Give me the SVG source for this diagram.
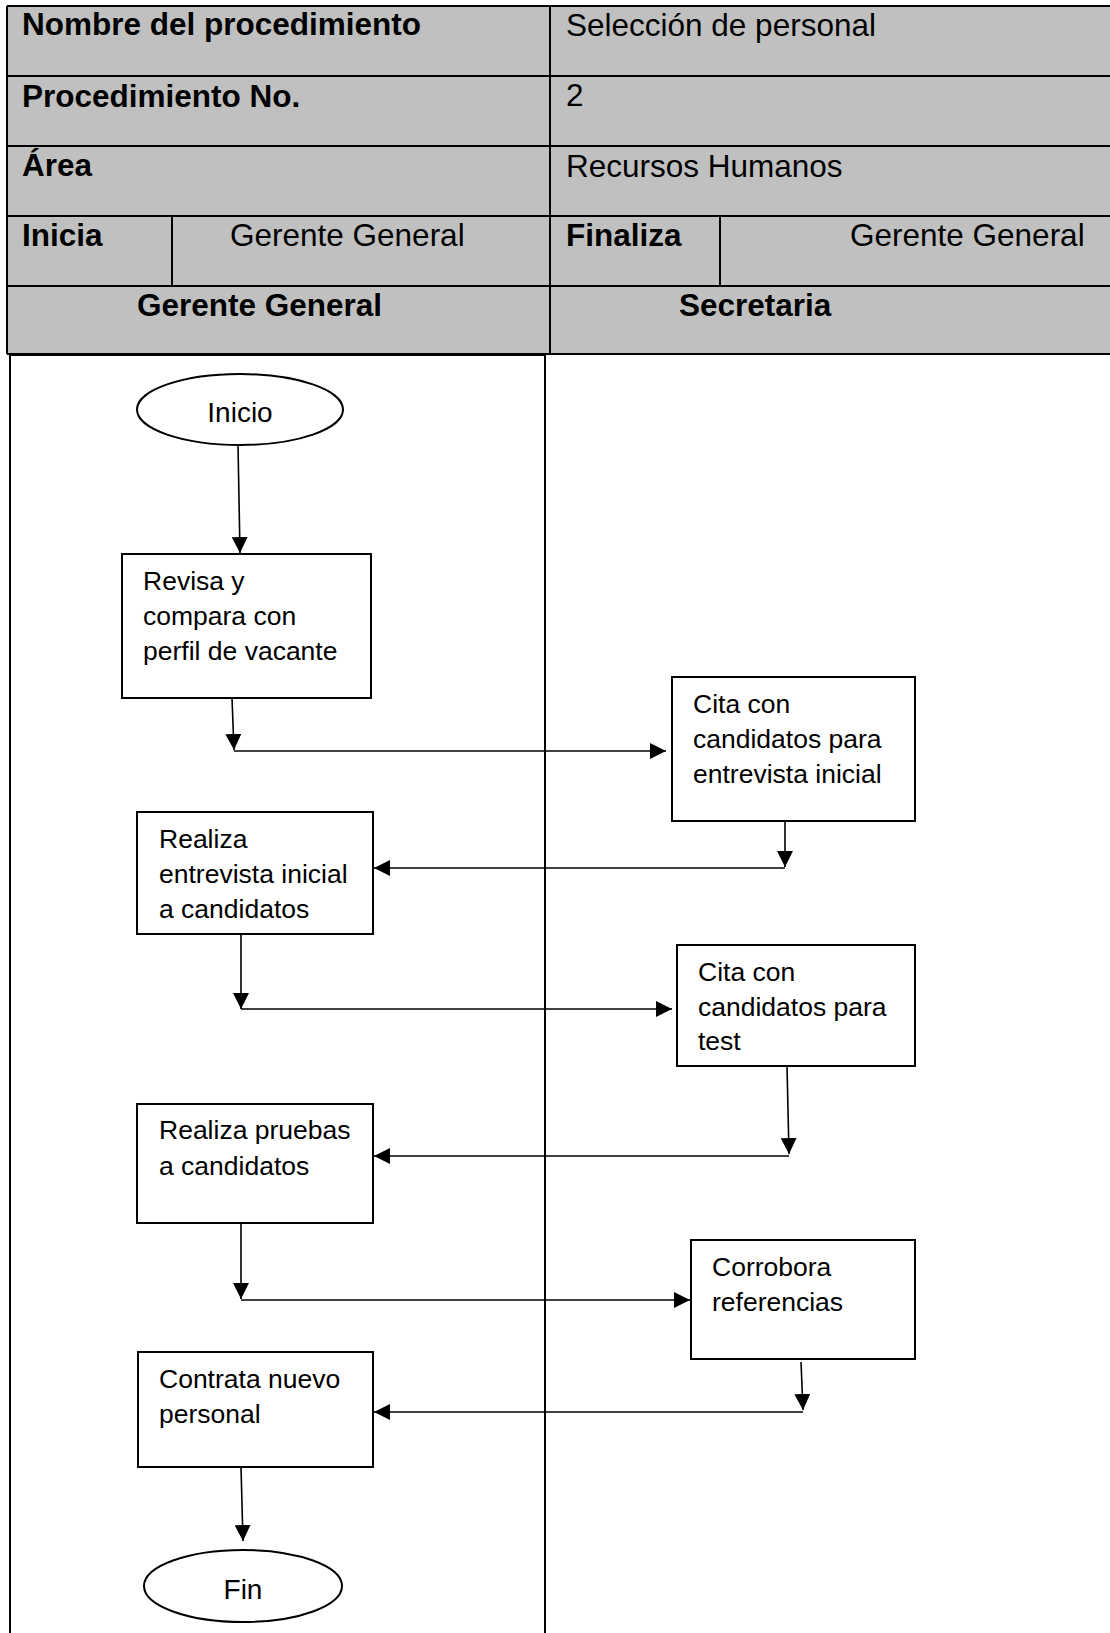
<svg xmlns="http://www.w3.org/2000/svg" width="1110" height="1633" viewBox="0 0 1110 1633">
<style>
.hb{font-family:"Liberation Sans",Arial,sans-serif;font-size:31.5px;font-weight:bold;fill:#000}
.hr{font-family:"Liberation Sans",Arial,sans-serif;font-size:31.5px;fill:#000}
.tx{font-family:"Liberation Sans",Arial,sans-serif;font-size:26.5px;fill:#000}
.tt{font-family:"Liberation Sans",Arial,sans-serif;font-size:28px;fill:#000}
.grid{stroke:#000;stroke-width:2;fill:none}
.shape{fill:#fff;stroke:#000;stroke-width:2}
.conn{stroke:#000;stroke-width:1.6;fill:none}
</style>
<defs>
<marker id="arr" markerUnits="userSpaceOnUse" markerWidth="16" markerHeight="16" viewBox="0 0 16 16" refX="16" refY="8" orient="auto">
<path d="M0,0 L16,8 L0,16 Z" fill="#000"/>
</marker>
</defs>
<rect width="1110" height="1633" fill="#fff"/>
<g id="header">
<rect x="7" y="6" width="1110" height="348" fill="#C0C0C0"/>
<g class="grid">
<line x1="7" y1="6" x2="1110" y2="6"/>
<line x1="7" y1="76" x2="1110" y2="76"/>
<line x1="7" y1="146" x2="1110" y2="146"/>
<line x1="7" y1="216" x2="1110" y2="216"/>
<line x1="7" y1="286" x2="1110" y2="286"/>
<line x1="7" y1="354" x2="1110" y2="354"/>
<line x1="7" y1="6" x2="7" y2="354"/>
<line x1="550" y1="6" x2="550" y2="354"/>
<line x1="172" y1="216" x2="172" y2="286"/>
<line x1="720" y1="216" x2="720" y2="286"/>
</g>
<text class="hb" x="22" y="35">Nombre del procedimiento</text>
<text class="hr" x="566" y="36">Selección de personal</text>
<text class="hb" x="22" y="107">Procedimiento No.</text>
<text class="hr" x="566" y="106">2</text>
<text class="hb" x="22" y="176">Área</text>
<text class="hr" x="566" y="177">Recursos Humanos</text>
<text class="hb" x="22" y="246">Inicia</text>
<text class="hr" x="230" y="246">Gerente General</text>
<text class="hb" x="566" y="246">Finaliza</text>
<text class="hr" x="850" y="246">Gerente General</text>
<text class="hb" x="137" y="316">Gerente General</text>
<text class="hb" x="679" y="316">Secretaria</text>
</g>
<g id="lanes" class="grid">
<line x1="10" y1="355" x2="545" y2="355"/>
<line x1="10" y1="354" x2="10" y2="1633"/>
<line x1="545" y1="354" x2="545" y2="1633"/>
</g>
<g id="connectors" class="conn">
<path d="M238,445 L240,553" marker-end="url(#arr)"/>
<path d="M232,698 L234,750" marker-end="url(#arr)"/>
<path d="M234,751 L666,751" marker-end="url(#arr)"/>
<path d="M785,819 L785,867" marker-end="url(#arr)"/>
<path d="M785,868 L374,868" marker-end="url(#arr)"/>
<path d="M241,934 L241,1009" marker-end="url(#arr)"/>
<path d="M241,1009 L672,1009" marker-end="url(#arr)"/>
<path d="M787,1066 L789,1154" marker-end="url(#arr)"/>
<path d="M789,1156 L374,1156" marker-end="url(#arr)"/>
<path d="M241,1223 L241,1299" marker-end="url(#arr)"/>
<path d="M241,1300 L690,1300" marker-end="url(#arr)"/>
<path d="M801,1362 L803,1410" marker-end="url(#arr)"/>
<path d="M803,1412 L374,1412" marker-end="url(#arr)"/>
<path d="M241,1467 L243,1541" marker-end="url(#arr)"/>
</g>
<g id="inicio">
<ellipse class="shape" cx="240" cy="409.5" rx="103" ry="35.5"/>
<text class="tt" x="240" y="422" text-anchor="middle">Inicio</text>
</g>
<g id="revisa">
<rect class="shape" x="122" y="554" width="249" height="144"/>
<text class="tx" x="143" y="590">Revisa y</text>
<text class="tx" x="143" y="625">compara con</text>
<text class="tx" x="143" y="660">perfil de vacante</text>
</g>
<g id="cita1">
<rect class="shape" x="672" y="677" width="243" height="144"/>
<text class="tx" x="693" y="713">Cita con</text>
<text class="tx" x="693" y="748">candidatos para</text>
<text class="tx" x="693" y="783">entrevista inicial</text>
</g>
<g id="entrevista">
<rect class="shape" x="137" y="812" width="236" height="122"/>
<text class="tx" x="159" y="848">Realiza</text>
<text class="tx" x="159" y="883">entrevista inicial</text>
<text class="tx" x="159" y="918">a candidatos</text>
</g>
<g id="cita2">
<rect class="shape" x="677" y="945" width="238" height="121"/>
<text class="tx" x="698" y="981">Cita con</text>
<text class="tx" x="698" y="1016">candidatos para</text>
<text class="tx" x="698" y="1050">test</text>
</g>
<g id="pruebas">
<rect class="shape" x="137" y="1104" width="236" height="119"/>
<text class="tx" x="159" y="1139">Realiza pruebas</text>
<text class="tx" x="159" y="1175">a candidatos</text>
</g>
<g id="corrobora">
<rect class="shape" x="691" y="1240" width="224" height="119"/>
<text class="tx" x="712" y="1276">Corrobora</text>
<text class="tx" x="712" y="1311">referencias</text>
</g>
<g id="contrata">
<rect class="shape" x="138" y="1352" width="235" height="115"/>
<text class="tx" x="159" y="1388">Contrata nuevo</text>
<text class="tx" x="159" y="1423">personal</text>
</g>
<g id="fin">
<ellipse class="shape" cx="243" cy="1586" rx="99" ry="36"/>
<text class="tt" x="243" y="1599" text-anchor="middle">Fin</text>
</g>
</svg>
